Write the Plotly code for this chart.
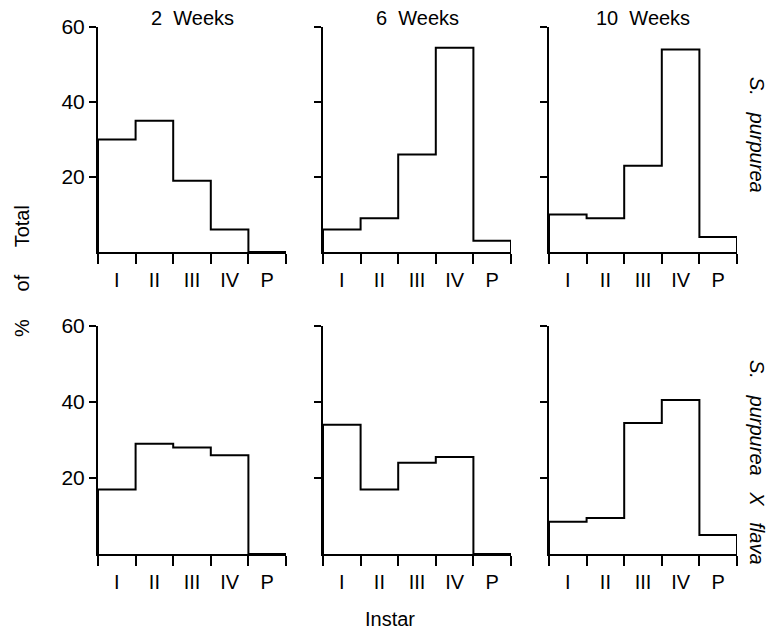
import plotly.graph_objects as go

instars = ["I", "II", "III", "IV", "P"]
weeks = ["2  Weeks", "6  Weeks", "10  Weeks"]
species = ["S. purpurea", "S. purpurea X flava"]

purpurea_2wk = [30, 35, 19, 6, 0]
purpurea_6wk = [6, 9, 26, 54.5, 3]
purpurea_10wk = [10, 9, 23, 54, 4]
hybrid_2wk = [17, 29, 28, 26, 0]
hybrid_6wk = [34, 17, 24, 25.5, 0]
hybrid_10wk = [8.5, 9.5, 34.5, 40.5, 5]

y_ticks = [20, 40, 60]

rows = [[purpurea_2wk, purpurea_6wk, purpurea_10wk],
        [hybrid_2wk, hybrid_6wk, hybrid_10wk]]

W, H = 768, 629
col_px = [(98, 286), (323, 511), (549, 737)]
row_px = [(27, 252), (326, 554)]

FONT = "Liberation Sans, Arial, sans-serif"
fig = go.Figure()
n = len(instars)
edges = list(range(n + 1))
centers = [i + 0.5 for i in range(n)]

k = 0
for r, row in enumerate(rows):
    for c, vals in enumerate(row):
        k += 1
        xa = "x" if k == 1 else f"x{k}"
        ya = "y" if k == 1 else f"y{k}"
        xs = [0] + edges + [n]
        ys = [0] + list(vals) + [vals[-1], 0]
        fig.add_trace(go.Scatter(x=xs, y=ys, mode="lines",
                                 line=dict(shape="hv", color="black", width=2),
                                 xaxis=xa, yaxis=ya, showlegend=False,
                                 hoverinfo="skip", cliponaxis=False))
        x0, x1 = col_px[c]
        y0, y1 = row_px[r]
        fig.layout[("xaxis" if k == 1 else f"xaxis{k}")] = dict(
            domain=[x0 / W, x1 / W], range=[0, n], anchor=ya,
            automargin=False,
            showgrid=False, zeroline=False, showline=True, linecolor="black",
            linewidth=2, tickvals=centers, ticktext=instars, ticks="",
            tickfont=dict(size=20, family=FONT, color="black"),
            ticklabelstandoff=9,
            minor=dict(tickvals=edges, ticks="outside", ticklen=10,
                       tickwidth=2, tickcolor="black"),
            fixedrange=True)
        fig.layout[("yaxis" if k == 1 else f"yaxis{k}")] = dict(
            domain=[1 - y1 / H, 1 - y0 / H], range=[0, 60], anchor=xa,
            automargin=False,
            showgrid=False, zeroline=False, showline=True, linecolor="black",
            linewidth=2, tickvals=y_ticks, ticks="outside", ticklen=7,
            tickwidth=2, tickcolor="black",
            showticklabels=(c == 0),
            tickfont=dict(size=21, family=FONT, color="black"),
            fixedrange=True)

annotations = []
for c, t in enumerate(weeks):
    x0, x1 = col_px[c]
    annotations.append(dict(text=t, x=(x0 + x1) / 2 / W, y=1 - 18 / H,
                            xref="paper", yref="paper", showarrow=False,
                            xanchor="center", yanchor="middle",
                            font=dict(size=20, family=FONT, color="black")))
annotations.append(dict(text="%     of     Total", x=22 / W, y=1 - 271 / H,
                        xref="paper", yref="paper", showarrow=False,
                        xanchor="center", yanchor="middle",
                        textangle=-90,
                        font=dict(size=20, family=FONT, color="black")))
annotations.append(dict(text="Instar", x=390 / W, y=1 - 619 / H,
                        xref="paper", yref="paper", showarrow=False,
                        xanchor="center", yanchor="middle",
                        font=dict(size=20, family=FONT, color="black")))
for r, s in enumerate(species):
    yc = [135, 462][r]
    annotations.append(dict(text="<i>" + s.replace(" ", "   ") + "</i>",
                            x=757 / W, y=1 - yc / H,
                            xref="paper", yref="paper", showarrow=False,
                            xanchor="center", yanchor="middle",
                            textangle=90,
                            font=dict(size=20, family=FONT, color="black")))

fig.update_layout(width=W, height=H, margin=dict(l=0, r=0, t=0, b=0),
                  paper_bgcolor="white", plot_bgcolor="white",
                  annotations=annotations)
fig.write_html("out.html")
